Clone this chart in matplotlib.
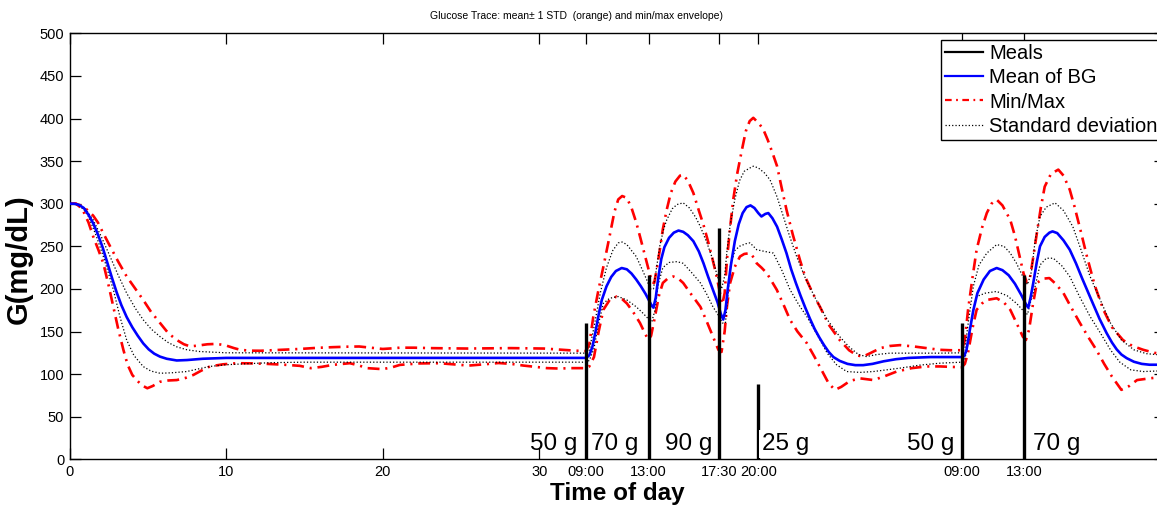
import matplotlib
matplotlib.use("Agg")
import matplotlib.pyplot as plt
from matplotlib.lines import Line2D

plt.rcParams['font.family'] = ['Liberation Sans', 'DejaVu Sans']

# ---------------- data (hours, mg/dL) ----------------
meal_times = [33, 37, 41.5, 44, 57, 61]
meal_heights = [160, 216, 272, 88, 160, 216]
meal_tick_labels = ["09:00", "13:00", "17:30", "20:00", "09:00", "13:00"]
label_texts = ["50 g", "70 g", "90 g", "25 g", "50 g", "70 g"]
label_anchor_times = [33, 33, 41.5, 44, 57, 61]
label_sides = ["left", "right", "left", "right", "left", "right"]
num_ticks = [0, 10, 20, 30]
y_ticks = [0, 50, 100, 150, 200, 250, 300, 350, 400, 450, 500]

t_mean = [0, 0.3, 0.6, 0.9, 1.2, 1.5, 1.8, 2.1, 2.4, 2.7, 3.0, 3.3, 3.64, 4.0, 4.35, 4.7, 5.05, 5.4, 5.77,
          6.2, 6.84, 7.5, 8.5, 10, 20, 33.0,
          33.2, 33.4, 33.6, 33.8, 34.0, 34.3, 34.6, 34.9, 35.27, 35.6, 35.9, 36.2, 36.5, 36.8, 37.0, 37.2,
          37.3, 37.45, 37.6, 37.8, 38.0, 38.3, 38.6, 38.9, 39.2, 39.5, 39.85, 40.2, 40.5, 40.8, 41.1, 41.4,
          41.6, 41.76, 41.9, 42.05, 42.25, 42.5, 42.75, 43.0, 43.25, 43.5, 43.75, 44.0, 44.2, 44.45, 44.64,
          44.9, 45.2, 45.5, 45.8, 46.1, 46.4, 46.7, 47.0, 47.3, 47.6, 47.9, 48.2, 48.5, 48.8, 49.2, 49.7,
          50.2, 50.7, 51.3, 52.0, 52.8, 53.6, 55, 57.0,
          57.15, 57.3, 57.5, 57.74, 58.0, 58.4, 58.8, 59.23, 59.6, 60.0, 60.4, 60.8, 61.1, 61.25, 61.4,
          61.57, 61.8, 62.0, 62.3, 62.6, 62.8, 63.1, 63.5, 63.9, 64.3, 64.7, 65.0, 65.4, 65.8, 66.26, 66.6,
          66.9, 67.2, 67.54, 68.0, 68.5, 69.0, 70]
g_mean = [300, 300, 298.5, 295, 287, 277, 264, 249, 231, 213, 196, 181, 167, 155, 145, 136, 129, 124, 120.5,
          118, 116, 116.5, 118, 119, 119, 119,
          122, 132, 150, 170, 187, 203, 214, 221, 224.5, 223, 218, 211, 203, 194, 187, 180,
          178, 190, 212, 235, 249, 260, 266, 268.5, 267, 263, 256, 244, 230, 214, 199, 184,
          171, 164, 175, 200, 228, 256, 276, 289, 296, 298, 295, 289, 285, 288, 289,
          283, 273, 258, 242, 223, 207, 192, 178, 165, 153, 143, 134, 126, 120, 115.5, 112,
          110.5, 110.5, 112, 115, 117.5, 119, 120, 120,
          121, 128, 150, 175, 195, 211, 221, 224.5, 222, 216, 206, 193, 182, 178, 190,
          207, 232, 250, 261, 266, 267.5, 265.5, 257, 246, 230, 212, 199, 182, 165, 148, 137,
          129, 123, 118.7, 114.5, 112, 111, 111]

t_max = [0, 0.4, 0.8, 1.1, 1.5, 1.8, 2.1, 2.58, 3.1, 3.64, 4.2, 4.7, 5.2, 5.77, 6.3, 6.84, 7.3, 7.7, 8.2, 8.8,
         9.4, 10.0, 10.5, 10.9, 11.5, 12.2, 13.5, 14.7, 15.8, 16.8, 17.8, 18.5, 19.3, 20, 20.6, 21.1, 22, 23,
         24.2, 25.4, 26.8, 28.2, 29.3, 30.3, 31.5, 32.3, 33.0,
         33.2, 33.46, 33.8, 34.1, 34.5, 34.8, 35.05, 35.3, 35.6, 35.9, 36.2, 36.44, 36.7, 37.0, 37.2, 37.35,
         37.5, 37.7, 37.9, 38.15, 38.4, 38.7, 39.0, 39.2, 39.5, 39.85, 40.2, 40.5, 40.8, 41.1, 41.34, 41.55,
         41.7, 41.85, 42.0, 42.2, 42.4, 42.65, 42.94, 43.2, 43.45, 43.68, 44.0, 44.3, 44.6, 44.9, 45.2, 45.5,
         45.8, 46.2, 46.66, 47.0, 47.5, 47.94, 48.5, 49.2, 49.8, 50.3, 50.7, 51.2, 51.8, 52.4, 53.05, 53.9,
         54.76, 55.6, 56.3, 57.0,
         57.2, 57.4, 57.7, 57.95, 58.3, 58.6, 58.9, 59.23, 59.6, 60.1, 60.4, 60.7, 60.95, 61.15, 61.35,
         61.55, 61.8, 62.05, 62.3, 62.7, 63.17, 63.5, 63.9, 64.2, 64.6, 65.0, 65.5, 66.05, 66.6, 67.3, 67.9,
         68.6, 69.3, 70]
g_max = [300, 300, 297, 293, 286, 278, 267, 250, 232, 214.6, 200, 187, 173, 160, 148, 140, 135, 132.5, 133.5,
         135, 135.5, 133.5, 130.5, 128.5, 127.5, 127.4, 128.5, 129.5, 130.8, 131.6, 132.2, 132.4, 130.8,
         129.5, 130.2, 131, 131, 130.5, 130.2, 130, 130.2, 130.5, 130.3, 130, 128.5, 127.5, 127,
         135, 167.6, 200, 226, 262, 290, 305, 309, 306.8, 295, 278, 261.6, 243, 222, 208, 207,
         222, 245, 270, 293, 312, 326, 333, 334, 327, 312.6, 292, 275, 255, 233, 214.6, 195,
         182, 195, 235, 272, 305, 335, 362, 385, 397, 400.8, 395, 388, 375, 360, 344, 318,
         293, 264, 234, 214, 194, 179, 158, 140, 128, 122, 120.6, 125, 130.5, 133, 134, 132.5,
         130.5, 128.5, 128, 128,
         140, 175, 215, 246, 272, 289, 300, 304.8, 298, 281, 262, 238, 218, 208, 212,
         235, 265.6, 295, 320, 335, 340, 333, 316.5, 297, 268, 238, 204, 175.5, 155, 140, 133,
         128.5, 125, 123]

t_min = [0, 0.4, 0.8, 1.2, 1.5, 1.85, 2.15, 2.5, 2.79, 3.1, 3.43, 3.7, 4.0, 4.28, 4.6, 4.96, 5.3, 5.77, 6.3,
         6.84, 7.4, 7.9, 8.4, 8.96, 9.8, 10.7, 11.6, 12.6, 13.7, 14.7, 15.4, 16.1, 16.8, 17.9, 18.5, 19, 20,
         20.6, 21.1, 22.3, 23.6, 24.5, 25.5, 26.5, 27.4, 28.2, 29, 30.5, 31.3, 32, 33.0,
         33.2, 33.5, 33.8, 34.1, 34.5, 34.95, 35.3, 35.6, 36.0, 36.44, 36.7, 36.97, 37.15, 37.4, 37.65,
         37.9, 38.2, 38.57, 38.9, 39.2, 39.7, 40.3, 40.7, 41.1, 41.45, 41.65, 41.85, 42.0, 42.2, 42.5,
         42.83, 43.1, 43.47, 43.7, 43.9, 44.2, 44.54, 44.85, 45.18, 45.6, 46.03, 46.5, 47.1, 47.6, 48.15,
         48.5, 48.9, 49.3, 49.86, 50.5, 51.35, 52.0, 52.84, 53.8, 54.76, 55.6, 56.3, 57.0,
         57.2, 57.4, 57.7, 57.95, 58.3, 58.6, 59.23, 59.7, 60.1, 60.5, 60.9, 61.1, 61.3, 61.55, 61.8,
         62.2, 62.6, 63.0, 63.5, 64.0, 64.55, 65.1, 65.6, 66.1, 66.6, 67.2, 67.7, 68.2, 69.0, 70]
g_min = [300, 300, 294, 278, 261.6, 245, 230, 203, 179, 153, 128.5, 111, 99, 93, 87, 83.4, 86, 91, 92.5,
         93, 95.5, 99, 104, 109, 111.5, 112.8, 112.6, 112, 111, 109.7, 107, 108.5, 110.8, 112.8, 110, 107,
         105.8, 108, 110.8, 112.5, 112.8, 111.5, 110, 111.5, 113, 112, 110, 107, 106.5, 107, 107,
         109, 120, 150, 175.5, 187, 191, 188, 183, 173, 160, 150, 140, 145, 167.6, 192,
         207, 212, 214.6, 212, 207, 194, 179, 162, 144, 128.5, 126, 150, 180, 207, 226,
         238, 241, 242, 237, 230, 225, 218.6, 209, 199, 182, 163.7, 150, 136.3, 120, 101,
         89, 81.5, 85, 92, 95, 93, 97, 103, 107, 109, 109, 108.5, 108,
         112, 125, 155, 175.5, 183, 187, 189, 184, 175.5, 160, 144, 140, 152, 182, 207,
         212, 212.7, 206, 195, 178, 160, 143, 128.5, 112, 97, 81.5, 86, 93, 95, 97]

t_sd_hi = [0, 0.5, 1.0, 1.5, 2.0, 2.58, 3.1, 3.64, 4.2, 4.7, 5.2, 5.77, 6.3, 6.84, 7.5, 8.3, 10, 33.0,
           33.2, 33.5, 33.9, 34.3, 34.7, 35.05, 35.3, 35.6, 36.2, 36.6, 36.87, 37.1, 37.3, 37.5, 37.7, 37.95,
           38.15, 38.5, 38.8, 39.2, 39.6, 40.0, 40.3, 40.7, 41.1, 41.4, 41.65, 41.85, 42.0, 42.2, 42.5, 42.8,
           43.1, 43.47, 43.68, 44.0, 44.4, 44.75, 45.2, 45.6, 46.0, 46.45, 47.0, 47.7, 48.4, 49.2, 49.8, 50.4,
           50.9, 51.6, 52.4, 55.6, 57.0,
           57.2, 57.45, 57.74, 58.1, 58.6, 59.23, 59.7, 60.1, 60.5, 60.9, 61.2, 61.45, 61.7, 62.0, 62.4,
           62.96, 63.5, 64.1, 64.6, 65.2, 65.9, 66.5, 67.2, 68.0, 68.8, 70]
g_sd_hi = [300, 299.5, 294, 281, 262, 238, 216, 195, 177, 163.7, 153, 144, 137, 132, 128.5, 126.5, 125, 124.6,
           128, 155, 195, 225, 245, 254, 255, 252, 238, 222, 210.7, 200, 200, 225, 250, 270,
           281, 294, 299, 301, 295, 284, 273, 255, 234, 214, 200, 215, 245, 275, 305, 327,
           338, 342, 344, 342, 336, 328, 308, 285, 262, 238, 213, 187, 164, 144, 132, 123,
           120.6, 123, 124.6, 124.6, 125,
           130, 165, 203, 228, 242, 252, 250, 242, 230, 214.6, 205, 220, 258, 285, 296,
           301, 292, 273, 247, 214.6, 185, 160, 140, 128.5, 124, 122]

t_sd_lo = [0, 0.5, 0.9, 1.2, 1.7, 2.15, 2.5, 2.79, 3.2, 3.64, 4.1, 4.7, 5.2, 5.77, 6.5, 7.47, 8.2, 8.96, 10,
           11.1, 13, 15, 33.0,
           33.2, 33.5, 33.8, 34.1, 34.5, 35.05, 35.6, 36.2, 36.6, 36.97, 37.2, 37.4, 37.6, 37.9, 38.3, 38.8,
           39.2, 39.7, 40.3, 40.7, 41.1, 41.5, 41.7, 41.9, 42.05, 42.2, 42.5, 42.8, 43.2, 43.47, 43.9, 44.4,
           44.96, 45.5, 46.03, 46.6, 47.1, 47.8, 48.4, 49.0, 49.65, 50.5, 51.35, 52.2, 53.05, 54.3, 55.6, 57.0,
           57.2, 57.45, 57.7, 57.95, 58.5, 59.23, 59.9, 60.5, 60.9, 61.2, 61.4, 61.65, 62.0, 62.4, 62.85,
           63.4, 63.9, 64.5, 65.2, 65.9, 66.5, 67.1, 67.8, 68.6, 70]
g_sd_lo = [300, 299, 293, 285, 262, 238, 217, 199, 168, 140, 122, 108.8, 103.5, 101, 101.5, 103, 106, 109, 111,
           112, 113.5, 114, 114,
           116, 130, 160, 183, 189, 191, 187, 179, 172, 165, 162, 175, 205, 225, 231, 232,
           230, 220, 207, 194, 179, 167.6, 160, 160, 190, 225, 245, 250, 253, 254, 246, 244,
           242, 222, 199, 181, 167.6, 145, 124.6, 111, 103, 102, 103, 105, 107, 110.5, 112.8, 114,
           118, 140, 172, 191, 195, 197, 192, 183, 175, 170, 185, 200, 228, 236, 236,
           227, 214.6, 192, 167.6, 147, 128.5, 114, 105, 103, 104]

# ---------------- figure ----------------
W, H = 1157, 507
fig = plt.figure(figsize=(W / 100, H / 100), dpi=100)
ax = fig.add_axes([69.7 / W, 1 - 459.3 / H, (1165.2 - 69.7) / W, (459.3 - 33.3) / H])

dd = (4.5, 2.2, 0.8, 2.2)
ax.plot(t_mean, g_mean, color='#0000ff', lw=1.9, zorder=3)
ax.plot(t_max, g_max, color='#ff0000', lw=1.9, dashes=dd, zorder=2)
ax.plot(t_min, g_min, color='#ff0000', lw=1.9, dashes=dd, zorder=2)
ax.plot(t_sd_hi, g_sd_hi, color='k', lw=0.9, linestyle=':', zorder=2)
ax.plot(t_sd_lo, g_sd_lo, color='k', lw=0.9, linestyle=':', zorder=2)
ax.vlines(meal_times, 0, meal_heights, colors='k', lw=2.4, zorder=4)

# label offsets from their meal line (points) and white backing: style only
label_offsets = [-6.0, 3.6, -5.0, 2.6, -5.6, 6.4]
label_backing = [False, False, False, True, False, False]
for t, lab, side, off, bg in zip(label_anchor_times, label_texts, label_sides,
                                  label_offsets, label_backing):
    kw = dict(bbox=dict(facecolor='white', edgecolor='none', pad=2.0)) if bg else {}
    ax.annotate(lab, xy=(t, 11), xytext=(off, 0), textcoords='offset points',
                ha='right' if side == "left" else 'left', va='baseline', fontsize=17.5,
                zorder=5, **kw)

ax.set_xlim(0, 70)
ax.set_ylim(0, 500)
ax.set_xticks(num_ticks + meal_times)
ax.set_xticklabels([str(v) for v in num_ticks] + meal_tick_labels)
ax.set_yticks(y_ticks)
ax.tick_params(direction='in', length=7.7, width=0.9, top=True, right=True,
               labelsize=10.5, pad=4, colors='k')
for s in ax.spines.values():
    s.set_linewidth(1.0)

ax.set_xlabel("Time of day", fontsize=17.5, fontweight='bold', labelpad=2)
ax.set_ylabel("G(mg/dL)", fontsize=21, fontweight='bold', va='center', ha='center')
ax.yaxis.set_label_coords((19 - 69.7) / (1165.2 - 69.7), 0.47)
fig.text(576.5 / W, 1 - 16 / H, "Glucose Trace: mean\u00b1 1 STD  (orange) and min/max envelope)",
         ha='center', va='center', fontsize=7.5)

handles = [Line2D([], [], color='k', lw=1.6),
           Line2D([], [], color='#0000ff', lw=1.6),
           Line2D([], [], color='#ff0000', lw=1.6, dashes=(3, 2, 0.8, 2)),
           Line2D([], [], color='k', lw=0.9, linestyle=':')]
leg = ax.legend(handles, ["Meals", "Mean of BG", "Min/Max", "Standard deviation"],
                loc='upper left', bbox_to_anchor=(940.7 / W, 1 - 40 / H),
                bbox_transform=fig.transFigure, fontsize=14.5, frameon=True, fancybox=False,
                framealpha=1, edgecolor='k', borderaxespad=0, borderpad=0.2,
                labelspacing=0.26, handlelength=1.9, handletextpad=0.3)
leg.get_frame().set_linewidth(1.0)

fig.savefig("out.png", dpi=100)
